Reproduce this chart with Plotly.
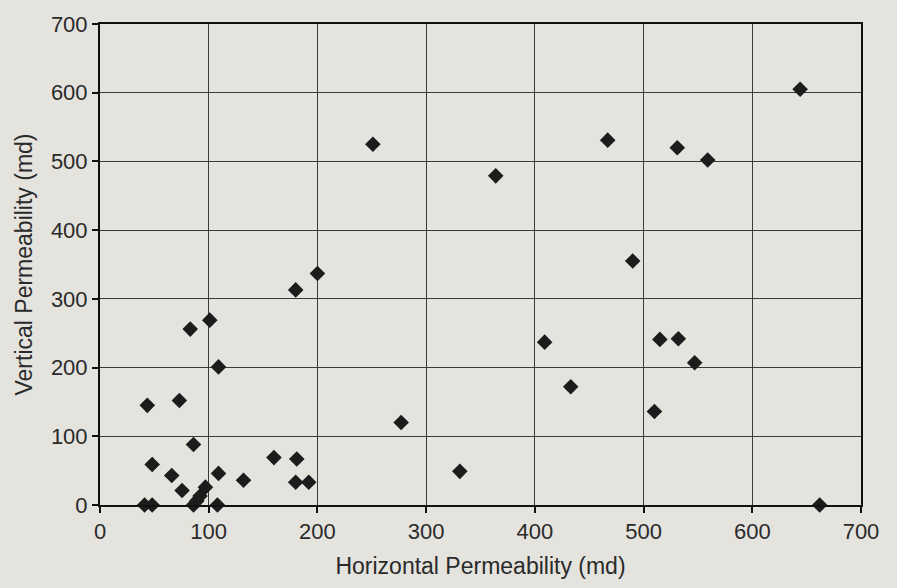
import plotly.graph_objects as go

horizontal_md = [41, 48, 48, 66, 75.5, 86, 86, 89, 92, 97, 109, 108, 43.5, 73, 83, 101, 109,
                 132, 160, 181, 180, 192, 180, 200, 251, 277, 331, 364, 409, 433,
                 467, 490, 510, 515, 532, 531, 547, 559, 644, 662]
vertical_md = [0, 0, 59, 43, 21, 88, 0, 6, 13, 26, 46, 0, 145, 152, 256, 269, 201,
               36, 69, 67, 33, 33, 313, 337, 525, 120, 49, 479, 237, 172,
               531, 355, 136, 241, 242, 520, 207, 502, 605, 0]

x_ticks = [0, 100, 200, 300, 400, 500, 600, 700]
y_ticks = [0, 100, 200, 300, 400, 500, 600, 700]

BG = "#e4e3de"

fig = go.Figure()
fig.add_trace(go.Scatter(
    x=horizontal_md, y=vertical_md, mode="markers",
    marker=dict(symbol="diamond", size=12, color="#1c1c1c"),
    cliponaxis=False, showlegend=False))

font = dict(family="Liberation Sans, Arial, sans-serif", size=22, color="#2a2a2a")
title_font = dict(family="Liberation Sans, Arial, sans-serif", size=23, color="#2a2a2a")
axis_common = dict(
    showgrid=True, gridcolor="#3a3a3a", gridwidth=1.4,
    showline=True, linecolor="#111111", linewidth=2, mirror=True,
    ticks="outside", ticklen=6, tickcolor="#111111", tickwidth=1.5,
    zeroline=False, tickfont=font)

fig.update_layout(
    width=897, height=588,
    margin=dict(l=100, r=36, t=18, b=83),
    paper_bgcolor=BG, plot_bgcolor=BG,
    font=font,
    xaxis=dict(range=[0, 700], tickvals=x_ticks, ticktext=[str(v) for v in x_ticks],
               title=dict(text="Horizontal Permeability (md)", font=title_font, standoff=14),
               **axis_common),
    yaxis=dict(range=[0, 700], tickvals=y_ticks, ticktext=[str(v) for v in y_ticks],
               title=dict(text="Vertical Permeability (md)", font=title_font, standoff=12),
               **axis_common),
)

fig.write_html(
    "out.html",
    config={"displayModeBar": False},
    post_script="document.body.style.margin='0';document.body.style.background='" + BG + "';",
)
